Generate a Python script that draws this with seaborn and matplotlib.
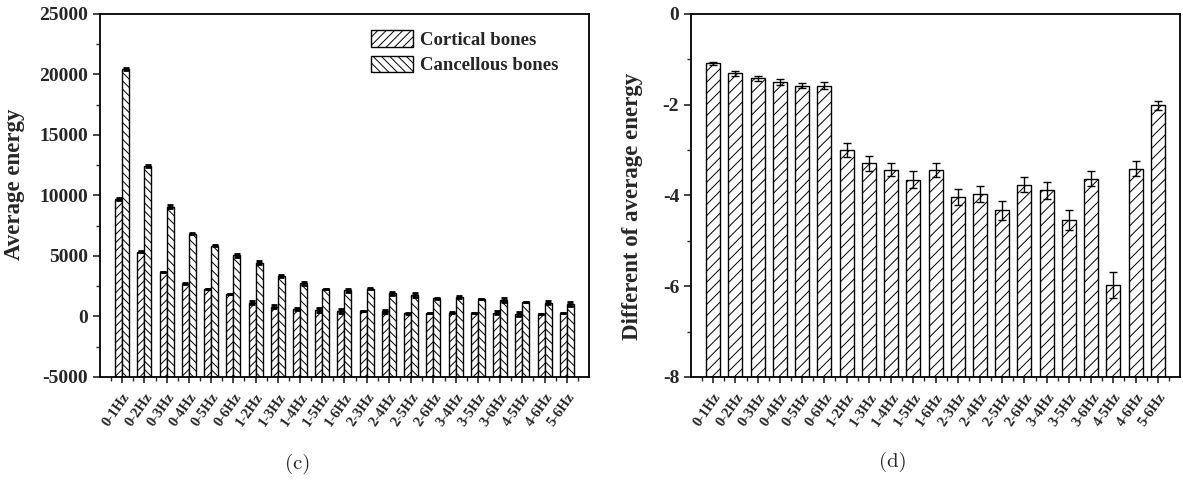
import numpy as np
import pandas as pd
import matplotlib.pyplot as plt
from matplotlib.patches import Patch
from matplotlib.ticker import MultipleLocator
import seaborn as sns

# frequency band pairs
bands = ['0-1Hz', '0-2Hz', '0-3Hz', '0-4Hz', '0-5Hz', '0-6Hz', '1-2Hz',
         '1-3Hz', '1-4Hz', '1-5Hz', '1-6Hz', '2-3Hz', '2-4Hz', '2-5Hz',
         '2-6Hz', '3-4Hz', '3-5Hz', '3-6Hz', '4-5Hz', '4-6Hz', '5-6Hz']

# (c) average energy
cortical = [9710, 5350, 3700, 2710, 2250, 1880, 1140, 810, 620, 540, 450,
            480, 430, 260, 260, 310, 260, 310, 210, 230, 260]
cancellous = [20450, 12440, 9070, 6840, 5850, 5060, 4450, 3350, 2740, 2270, 2170,
              2300, 1920, 1780, 1500, 1610, 1470, 1360, 1200, 1140, 1030]
cortical_err = [60, 60, 0, 60, 0, 0, 130, 130, 60, 130, 130,
                0, 130, 60, 0, 60, 0, 130, 130, 0, 0]
cancellous_err = [60, 60, 130, 60, 60, 130, 130, 60, 130, 0, 130,
                  60, 130, 130, 60, 60, 0, 130, 0, 130, 130]

# (d) difference of average energy
diff = [-1.09, -1.31, -1.42, -1.50, -1.58, -1.58, -3.00, -3.29, -3.43, -3.65, -3.44,
        -4.03, -3.97, -4.33, -3.76, -3.89, -4.54, -3.63, -5.98, -3.41, -2.01]
diff_err = [0.04, 0.05, 0.06, 0.07, 0.06, 0.07, 0.15, 0.17, 0.15, 0.18, 0.15,
            0.18, 0.18, 0.20, 0.17, 0.18, 0.23, 0.17, 0.29, 0.17, 0.10]

sns.set_theme(style='ticks')
plt.rcParams['font.family'] = ['Liberation Serif', 'DejaVu Serif']
plt.rcParams['axes.unicode_minus'] = False
plt.rcParams['hatch.color'] = '#3a3a3a'
plt.rcParams['hatch.linewidth'] = 0.7
plt.rcParams['axes.edgecolor'] = 'black'
plt.rcParams['axes.linewidth'] = 1.3

fig = plt.figure(figsize=(11.83, 4.86), dpi=100)
ax1 = fig.add_axes([0.0845, 0.2243, 0.4134, 0.747])
ax2 = fig.add_axes([0.5841, 0.2243, 0.4134, 0.747])

# ---- (c) grouped bars ----
df = pd.DataFrame({
    'band': bands * 2,
    'energy': cortical + cancellous,
    'type': ['Cortical bones'] * len(bands) + ['Cancellous bones'] * len(bands),
})
sns.barplot(data=df, x='band', y='energy', hue='type', ax=ax1, width=0.63,
            palette={'Cortical bones': 'white', 'Cancellous bones': 'white'},
            edgecolor='black', linewidth=1.0, errorbar=None, legend=False)

# bars are drawn up from the bottom of the axis, as in the original figure
base1 = -5000
hatches = ['////', '\\\\\\\\']
for cont, hatch, errs in zip(ax1.containers, hatches, [cortical_err, cancellous_err]):
    xs, tops = [], []
    for bar in cont:
        top = bar.get_height()
        bar.set_y(base1)
        bar.set_height(top - base1)
        bar.set_hatch(hatch)
        xs.append(bar.get_x() + bar.get_width() / 2)
        tops.append(top)
    ax1.errorbar(xs, tops, yerr=errs, fmt='none', ecolor='black',
                 elinewidth=1.5, capsize=2.5, capthick=2, zorder=5)

ax1.set_ylim(-5000, 25000)
ax1.set_yticks(range(-5000, 25001, 5000))
ax1.yaxis.set_minor_locator(MultipleLocator(2500))

handles = [Patch(facecolor='white', edgecolor='black', hatch='////', label='Cortical bones'),
           Patch(facecolor='white', edgecolor='black', hatch='\\\\\\\\', label='Cancellous bones')]
ax1.legend(handles=handles, loc='upper left', bbox_to_anchor=(0.555, 0.955),
           frameon=False, borderpad=0, borderaxespad=0, handlelength=2.2,
           handleheight=1.0, handletextpad=0.4, labelspacing=0.35,
           prop={'weight': 'bold', 'size': 13.5})

ax1.set_ylabel('Average energy', fontsize=16.5, fontweight='bold')
ax1.yaxis.set_label_coords(-0.153, 0.532)

# ---- (d) single bars ----
sns.barplot(x=bands, y=diff, ax=ax2, width=0.63, color='white',
            edgecolor='black', linewidth=1.0, errorbar=None)
base2 = -8
xs, tops = [], []
for bar in ax2.containers[0]:
    val = min(bar.get_y(), bar.get_y() + bar.get_height())
    bar.set_y(base2)
    bar.set_height(val - base2)
    bar.set_hatch('///')
    xs.append(bar.get_x() + bar.get_width() / 2)
    tops.append(val)
ax2.errorbar(xs, tops, yerr=diff_err, fmt='none', ecolor='black',
             elinewidth=1.0, capsize=3, capthick=1.0, zorder=5)

ax2.set_ylim(-8, 0)
ax2.set_yticks([-8, -6, -4, -2, 0])
ax2.yaxis.set_minor_locator(MultipleLocator(1))
ax2.set_ylabel('Different of average energy', fontsize=16.5, fontweight='bold')
ax2.yaxis.set_label_coords(-0.098, 0.471)

for ax in (ax1, ax2):
    ax.set_xlim(-1, 21)
    ax.set_xlabel('')
    ax.set_xticks(range(len(bands)))
    ax.set_xticks(np.arange(-0.5, len(bands), 1), minor=True)
    ax.set_xticklabels(bands, rotation=55, ha='right', rotation_mode='anchor',
                       fontsize=10.5, fontweight='bold')
    ax.tick_params(axis='x', which='major', direction='inout', length=8, width=1.2, pad=6)
    ax.tick_params(axis='x', which='minor', direction='out', length=3, width=1.0)
    ax.tick_params(axis='y', which='major', direction='out', length=5, width=1.2,
                   labelsize=14)
    ax.tick_params(axis='y', which='minor', direction='out', length=3, width=1.0)
    for lab in ax.get_yticklabels():
        lab.set_fontweight('bold')
    for s in ax.spines.values():
        s.set_visible(True)
        s.set_linewidth(1.3)

fig.text(298 / 1183, 1 - 464 / 486, '(c)', ha='center', va='center',
         fontsize=15, family='cmr10')
fig.text(893 / 1183, 1 - 462 / 486, '(d)', ha='center', va='center',
         fontsize=15, family='cmr10')

fig.savefig('out.png', dpi=100)
